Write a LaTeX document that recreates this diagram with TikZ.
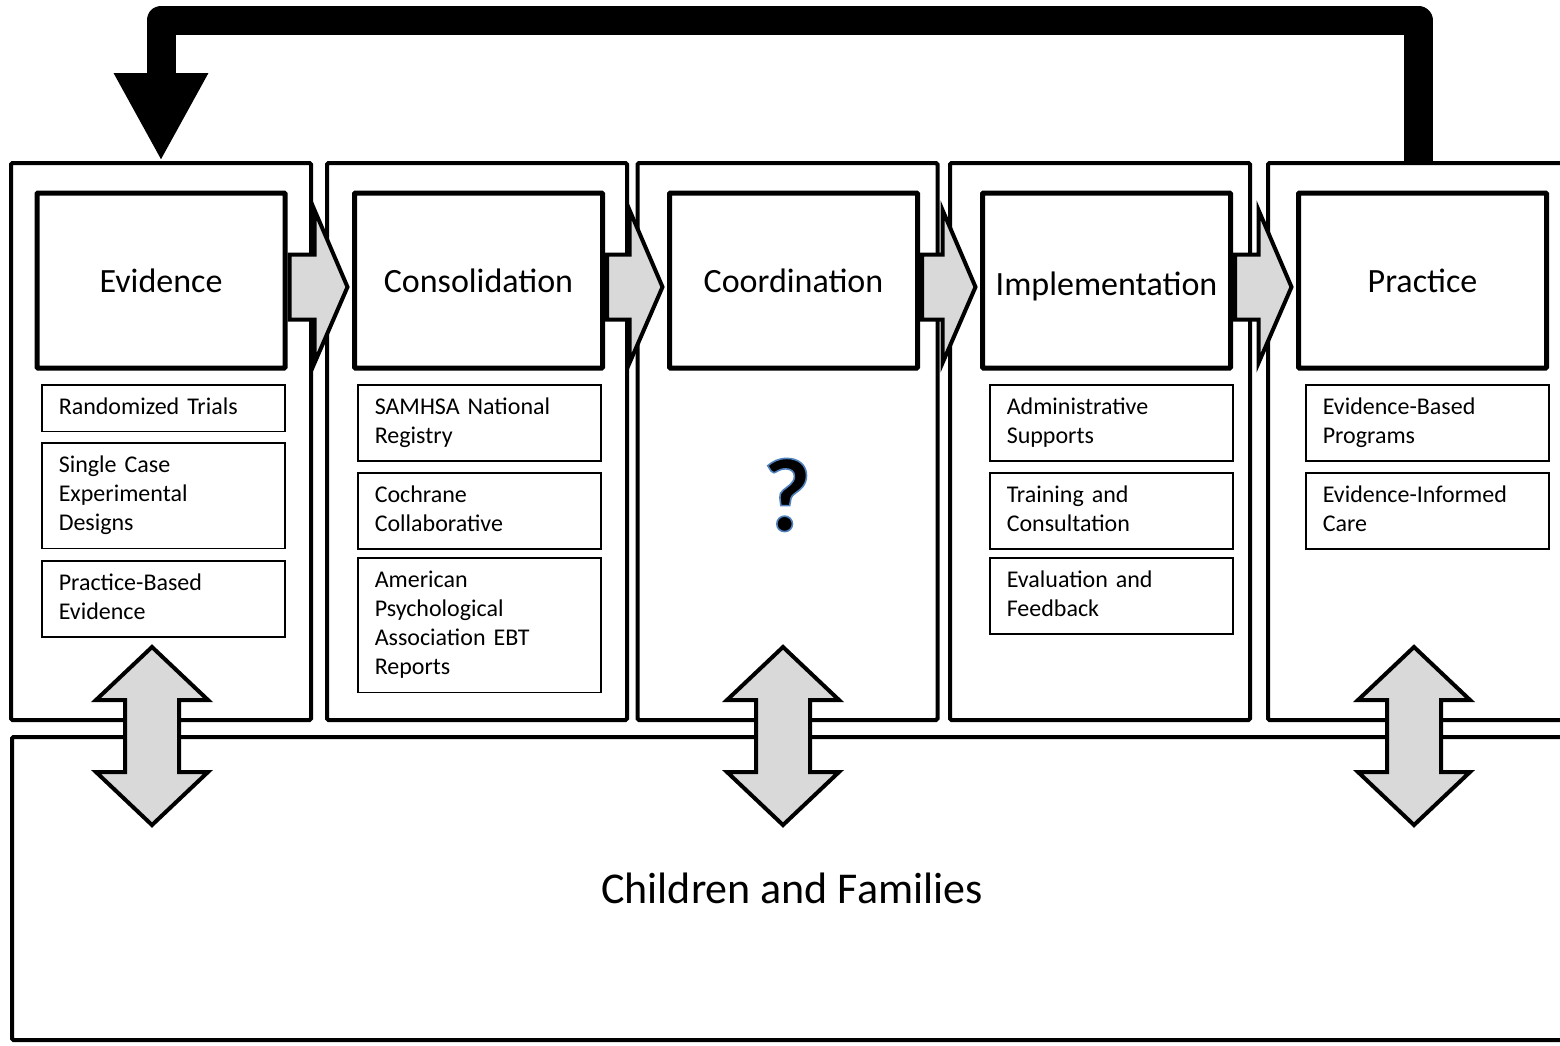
\documentclass[tikz,border=0pt]{standalone}
\usepackage{fontspec}
\setmainfont{Carlito}
\usetikzlibrary{arrows.meta,calc}
\definecolor{arrowgray}{HTML}{D9D9D9}

\begin{document}
\begin{tikzpicture}[x=1pt, y=-1pt,
    column/.style={draw, line width=4, rounded corners=1.5,
        minimum width=300, minimum height=557},
    stage/.style={draw, line width=5, rounded corners=1,
        minimum width=248, minimum height=175,
        text height=23, text depth=0,
        font=\fontsize{34}{40}\selectfont},
    item/.style={draw, line width=1.5, anchor=north west,
        text width=209, inner xsep=17, inner ysep=8.8, align=left,
        font=\fontsize{24}{29.3}\selectfont,
        execute at begin node=\strut, execute at end node=\strut},
    blockarrow/.style={draw, line width=4, fill=arrowgray},
    feedback/.style={line width=29, line join=round,
        -{Triangle[width=88pt, length=88pt]}}]
        \useasboundingbox (0,0) rectangle (1560,1045);
        \clip (0,0) rectangle (1560,1045);

        % columns
        \node [column] (c1) at (161,441.5){};
        \node [column] (c2) at (477,441.5){};
        \node [column] (c3) at (787.5,441.5){};
        \node [column] (c4) at (1100,441.5){};
        \node [column] (c5) at (1418,441.5){};

        % children and families
        \node [draw, line width=4, rounded corners=1.5,
            minimum width=1560,
            minimum height=303,
            font=\fontsize{44}{52}\selectfont,
        ] (ch) at (792,888.5){Children and Families};

        % stages
        \node [stage] (t1) at (161,280.5){Evidence};
        \node [stage] (t2) at (478.5,280.5){Consolidation};
        \node [stage] (t3) at (793.5,280.5){Coordination};
        \node [stage] (t4) at (1106.5,280.5){\raisebox{-3pt}{Implementation}};
        \node [stage] (t5) at (1422.5,280.5){Practice};

        % arrows between stages
        \foreach \a/\b in {t1/t2, t2/t3, t3/t4, t4/t5}
            \draw [blockarrow] ($(\a.east)+(2,-26)$) -- ($(\b.west)+(-37.5,-26)$)
                -- ($(\b.west)+(-37.5,-70.5)$) -- ($(\b.west)+(-4.5,6.5)$)
                -- ($(\b.west)+(-37.5,82.5)$) -- ($(\b.west)+(-37.5,39)$)
                -- ($(\a.east)+(2,39)$) -- cycle;

        % evidence
        \node [item] (e1) at (41,384){Randomized Trials};
        \node [item] (e2) at (41,442){Single Case\\Experimental\\Designs};
        \node [item] (e3) at (41,560){Practice-Based\\Evidence};

        % consolidation
        \node [item] (s1) at (357,384){SAMHSA National\\Registry};
        \node [item] (s2) at (357,472){Cochrane\\Collaborative};
        \node [item] (s3) at (357,557){American\\Psychological\\Association EBT\\Reports};

        % coordination (black glyph, blue outline)
        \node [font=\fontsize{105}{110}\selectfont\bfseries] (q) at (787,495)
            {\special{pdf:literal direct 2 Tr 1.6 w 0.31 0.506 0.741 RG}?\special{pdf:literal direct 0 Tr}};

        % implementation
        \node [item] (i1) at (989,384){Administrative\\Supports};
        \node [item] (i2) at (989,472){Training and\\Consultation};
        \node [item] (i3) at (989,557){Evaluation and\\Feedback};

        % practice
        \node [item] (p1) at (1305,384){Evidence-Based\\Programs};
        \node [item] (p2) at (1305,472){Evidence-Informed\\Care};

        % feedback loop
        \draw [feedback] (c5.north) -- ++(0,-141) -| (c1.north);

        % links to children and families
        \coordinate (u1) at (152,736);
        \coordinate (u3) at (783,736);
        \coordinate (u5) at (1414,736);
        \foreach \u in {u1,u3,u5}
            \draw [blockarrow] ($(\u)+(0,-89)$) -- ++(56,53) -- ++(-29,0)
                -- ++(0,72) -- ++(29,0) -- ++(-56,53) -- ++(-56,-53)
                -- ++(29,0) -- ++(0,-72) -- ++(-29,0) -- cycle;
        \end{tikzpicture}
\end{document}
